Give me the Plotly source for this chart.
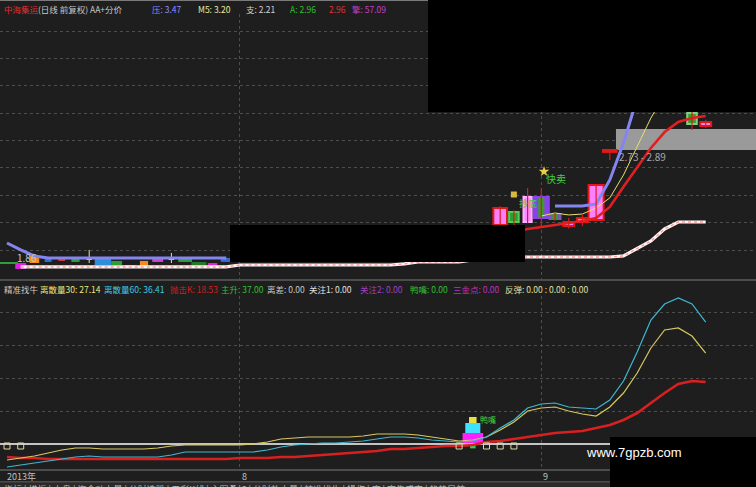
import plotly.graph_objects as go

W, H = 756, 487
BG = "#1e1e1e"
FONT = "Noto Sans CJK SC"

# ---------------- data ----------------
days = list(range(52))

# left cluster of small candles (days 0-16)
left_days = list(range(17))
left_lo = [1.860, 1.822, 1.867, 1.875, 1.883, 1.875, 1.890, 1.852, 1.852, 1.829, 1.844, 1.875, 1.890, 1.875, 1.829, 1.844, 1.875]
left_hi = [1.875, 1.867, 1.921, 1.906, 1.898, 1.898, 1.906, 1.906, 1.883, 1.852, 1.883, 1.906, 1.906, 1.898, 1.875, 1.867, 1.906]
left_col = ["#2e9e3a", "#e020e0", "#f08c1e", "#2d6fd8", "#d83030", "#2e9e3a", "#e8e0a0", "#2d8fd8", "#2e9e3a",
            "#e020e0", "#f08c1e", "#d040d0", "#e8e0a0", "#2e9e3a", "#1f7a2a", "#e020e0", "#2d6fd8"]
left_w = [1.6, 0.8, 0.7, 0.5, 0.5, 0.6, 0.4, 1.2, 0.8, 0.8, 0.6, 0.8, 0.4, 1.0, 1.1, 0.7, 0.8]
doji_days = [6, 12]
doji_low = [1.867, 1.867]
doji_high = [1.967, 1.944]

# right candles
c_days = [36, 37, 38, 39, 40, 41, 42, 43, 44, 50, 51]
c_open = [2.157, 2.257, 2.180, 2.211, 2.241, 2.150, 2.180, 2.196, 2.715, 3.012, 2.913]
c_close = [2.287, 2.180, 2.371, 2.371, 2.203, 2.180, 2.211, 2.463, 2.730, 2.928, 2.944]
c_high = [2.300, 2.270, 2.440, 2.440, 2.250, 2.210, 2.240, 2.470, 2.730, 3.030, 2.960]
c_low = [2.150, 2.150, 2.170, 2.142, 2.190, 2.130, 2.150, 2.190, 2.654, 2.883, 2.900]
c_fill = ["#ff80ff", "#2e9e2e", "#ff88ff", "#8a3ff0", "#7a5ab0", "#ff80ff", "#ff80ff", "#ff80ff", "#ff80ff", "#3c9a2c", "#ff80ff"]
c_edge = ["#e01818", "#55cc55", "#ffb0ff", "#8a3ff0", "#7a5ab0", "#e01818", "#e01818", "#e01818", "#e01818", "#7fd07f", "#e01818"]
c_width = [1.0, 0.7, 0.6, 1.1, 0.8, 0.8, 0.8, 1.1, 1.0, 0.7, 0.8]
inner_days = [39, 40]
inner_lo = [2.211, 2.203]
inner_hi = [2.371, 2.241]

N = None
# top panel lines (price)
res_line = [2.02, 1.967, 1.921] + [1.906] * 14 + [N] * 23 + [2.302, 2.302, 2.302, 2.318, 2.501, 2.783, 3.127, 3.42] + [N] * 4
m5_line = [N] * 39 + [2.226, 2.249, 2.234, 2.241, 2.287, 2.364, 2.539, 2.753, 2.974, 3.15, 3.25, N, N]
ma_line = [N] * 35 + [2.060, 2.081, 2.104, 2.127, 2.142, 2.157, 2.173, 2.188, 2.211, 2.295, 2.450, 2.593,
                      2.745, 2.867, 2.944, 2.974, 2.990]
sup_line = [N] + [1.837] * 16 + [1.852] * 12 + [1.860, 1.875, 1.875, 1.875, 1.875, 1.890, 1.906] + [1.913] * 9 + \
           [1.921, 1.975, 2.035, 2.127, 2.180, 2.180, 2.180]

band_low, band_high, band_start = 2.73, 2.89, 44.45

# bottom panel indicator lines
lsl30 = [-4.78, -4.18, -3.58, -2.69, -1.79, -1.19, -1.19, -1.49, -1.49, -1.49, -1.49, -1.19, -0.60,
         -0.30, -0.30, -0.30, -0.30, -0.30, 0.00, 0.60, 1.49, 1.79, 2.09, 2.09, 2.09, 2.09, 2.39,
         2.99, 2.99, 2.99, 2.69, 2.09, 1.49, 0.90, 1.19, 2.09, 4.18, 6.57, 9.85, 10.75, 11.04, 9.85,
         8.96, 8.36, 11.04, 15.22, 21.19, 28.66, 34.03, 34.63, 32.24, 27.14]
lsl60 = [-6.87, -6.27, -5.67, -5.07, -4.48, -3.88, -3.58, -3.88, -3.88, -3.88, -3.88, -3.88, -3.28,
         -2.39, -2.39, -2.39, -2.39, -2.39, -2.39, -1.79, -0.90, -0.30, 0.00, 0.30, 0.30, 0.60, 0.90,
         1.49, 2.09, 2.09, 1.79, 1.19, 0.90, 0.60, 0.90, 2.09, 4.78, 7.16, 10.75, 11.94, 12.24, 11.04,
         10.75, 10.45, 13.13, 18.81, 27.46, 37.01, 41.79, 43.58, 41.79, 36.41]
pjk = [-3.88, -4.18, -4.18] + [-4.48] * 14 + [-4.18] * 3 + [-3.88, -3.88, -3.58, -3.28, -2.99, -2.69, -2.39,
       -2.09, -1.49, -1.49, -1.19, -0.90, -0.60, -0.60, -0.30, 0.60, 0.90, 1.49, 2.09, 2.69, 3.28, 3.58,
       3.88, 4.78, 5.67, 7.16, 9.25, 12.24, 15.22, 17.91, 18.81, 18.53]
mark_days = [0, 1, 33, 35, 36, 37]
mark_val = [-0.6] * 6
blk_day = 34
blk_lo = [0.3, 3.28, 6.27, -1.3]
blk_hi = [3.28, 6.27, 8.06, 0.0]
blk_col = ["#ff20ff", "#40e0ff", "#e8e040", "#30d050"]
blk_w = [1.5, 1.1, 0.55, 0.4]

top_grid = [1.959, 2.173, 2.379, 2.593, 2.799, 3.005, 3.219, 3.432, 3.638]
bot_grid = [9.85, 19.7, 29.55, 39.4]
month_days = [17, 39]
month_labels = ["8", "9"]
tab_labels = ["指标", "模板", "大盘", "资金动力量", "分时选股", "五彩K线", "主图叠加", "分时放大量",
              "精准找牛", "操作", "底", "密集成交", "趋势导航"]

# ---------------- figure ----------------
fig = go.Figure()

# gray zone
fig.add_shape(type="rect", xref="x", yref="y", x0=band_start, x1=60, y0=band_low, y1=band_high,
              fillcolor="#9a9a9a", line_width=0, layer="between")

# support line (white with pink dots)
fig.add_trace(go.Scatter(x=days, y=sup_line, mode="lines", line=dict(color="#fff4f4", width=3.2),
                         xaxis="x", yaxis="y"))
fig.add_trace(go.Scatter(x=days, y=sup_line, mode="lines", line=dict(color="#ff9a9a", width=1.4, dash="dot"),
                         xaxis="x", yaxis="y"))

# left candles
fig.add_trace(go.Bar(x=left_days, y=[h - l for h, l in zip(left_hi, left_lo)], base=left_lo, width=left_w,
                     marker=dict(color=left_col, line=dict(width=0)), xaxis="x", yaxis="y"))
wx, wy = [], []
for d, lo, hi in zip(doji_days, doji_low, doji_high):
    wx += [d, d, None]
    wy += [lo, hi, None]
fig.add_trace(go.Scatter(x=wx, y=wy, mode="lines", line=dict(color="#e8e0a0", width=1), xaxis="x", yaxis="y"))

# lines
fig.add_trace(go.Scatter(x=days, y=res_line, mode="lines", line=dict(color="#8585f0", width=3), xaxis="x", yaxis="y"))
fig.add_trace(go.Scatter(x=days, y=ma_line, mode="lines", line=dict(color="#e02020", width=2.6), xaxis="x", yaxis="y"))
fig.add_trace(go.Scatter(x=days, y=m5_line, mode="lines", line=dict(color="#e6e070", width=1), xaxis="x", yaxis="y"))

# right candles
wx, wy = [], []
for d, lo, hi in zip(c_days, c_low, c_high):
    wx += [d, d, None]
    wy += [lo, hi, None]
fig.add_trace(go.Scatter(x=wx, y=wy, mode="lines", line=dict(color="#e01818", width=1.2), xaxis="x", yaxis="y"))
fig.add_trace(go.Bar(x=c_days, y=[abs(c - o) for o, c in zip(c_open, c_close)],
                     base=[min(o, c) for o, c in zip(c_open, c_close)], width=c_width,
                     marker=dict(color=c_fill, line=dict(color=c_edge, width=2)), xaxis="x", yaxis="y"))
fig.add_trace(go.Bar(x=inner_days, y=[h - l for h, l in zip(inner_hi, inner_lo)], base=inner_lo, width=[0.45, 0.4],
                     marker=dict(color="#3c9a2c", line=dict(width=0)), xaxis="x", yaxis="y"))
# signal icons
fig.add_trace(go.Scatter(x=[37.0], y=[2.39], mode="markers", marker=dict(symbol="square", size=6, color="#d8b840"),
                         xaxis="x", yaxis="y"))
fig.add_trace(go.Scatter(x=[39.2], y=[2.565], mode="markers", marker=dict(symbol="star", size=8, color="#e8d040"),
                         xaxis="x", yaxis="y"))

# bottom panel
fig.add_trace(go.Scatter(x=days, y=pjk, mode="lines", line=dict(color="#d82020", width=2.6), xaxis="x2", yaxis="y2"))
fig.add_trace(go.Scatter(x=days, y=lsl30, mode="lines", line=dict(color="#d8c860", width=1.2), xaxis="x2", yaxis="y2"))
fig.add_trace(go.Scatter(x=days, y=lsl60, mode="lines", line=dict(color="#40b8d0", width=1.2), xaxis="x2", yaxis="y2"))
fig.add_trace(go.Bar(x=[blk_day] * 4, y=[h - l for h, l in zip(blk_hi, blk_lo)], base=blk_lo, width=blk_w,
                     marker=dict(color=blk_col, line=dict(width=0)), xaxis="x2", yaxis="y2"))
fig.add_trace(go.Scatter(x=mark_days, y=mark_val, mode="markers",
                         marker=dict(symbol="square-open", size=6, color="#e0d8a0", line=dict(width=1)),
                         xaxis="x2", yaxis="y2"))

# ---------------- layout ----------------
def py(p):
    return 1 - p / H

xr = [-7 / 13.7, (W - 7) / 13.7]
grid = dict(showgrid=True, gridcolor="#4e4e4e", griddash="dot", gridwidth=1, zeroline=False,
            showticklabels=False, ticks="", showline=False)

fig.update_layout(
    width=W, height=H, margin=dict(l=0, r=0, t=0, b=0),
    paper_bgcolor=BG, plot_bgcolor=BG, showlegend=False, barmode="overlay", hovermode=False,
    font=dict(family=FONT, size=9, color="#c8c8c8"),
    xaxis=dict(domain=[0, 1], range=xr, anchor="y", tickvals=month_days, **grid),
    xaxis2=dict(domain=[0, 1], range=xr, anchor="y2", matches="x", tickvals=month_days, **grid),
    yaxis=dict(domain=[py(279), py(14)], range=[1.745, 3.768], tickvals=top_grid, **grid),
    yaxis2=dict(domain=[py(470), py(296)], range=[-7.76, 44.18], tickvals=bot_grid,
                **{**grid, "zeroline": True}, zerolinecolor="#c4c4c4", zerolinewidth=2),
)

shapes = []
for yy in [0.5, 280, 470, 482]:
    shapes.append(dict(type="line", xref="paper", yref="paper", x0=0, x1=1, y0=py(yy), y1=py(yy),
                       line=dict(color="#7a7a7a", width=1), layer="above"))
shapes.append(dict(type="rect", xref="paper", yref="paper", x0=0, x1=1, y0=0, y1=py(482.5),
                   fillcolor="#2a2a2a", line_width=0, layer="above"))
for x0, x1, y0, y1 in [(428, 756, 0, 112), (230, 525, 225, 262), (610, 756, 437, 487)]:
    shapes.append(dict(type="rect", xref="paper", yref="paper", x0=x0 / W, x1=x1 / W, y0=py(y1), y1=py(y0),
                       fillcolor="#000000", line_width=0, layer="above"))
for s in shapes:
    fig.add_shape(**s)

ann = []
def txt(x, y, s, color, size=8.5, xref="paper", yref="paper", xanchor="left", yanchor="middle"):
    ann.append(dict(x=x, y=y, text=s, xref=xref, yref=yref, xanchor=xanchor, yanchor=yanchor, showarrow=False,
                    font=dict(color=color, size=size, family=FONT)))

# header
for x, s, c in [(2, "中海集运", "#e03030"), (36, "(日线 前复权) AA+分价", "#c8c8c8"), (150, "压: 3.47", "#8c8cff"),
                (196, "M5: 3.20", "#e8e8a0"), (244, "支: 2.21", "#d0d0d0"), (288, "A: 2.96", "#30c030"),
                (327, "2.96", "#e03030"), (350, "擎: 57.09", "#c040d0")]:
    txt(x / W, py(9), s, c)
for x, s, c in [(2, "精准找牛", "#c8c8c8"), (38, "离散量30: 27.14", "#e8e880"), (102, "离散量60: 36.41", "#40c8e8"),
                (168, "抛击K: 18.53", "#d02020"), (219, "主升: 37.00", "#30c030"), (265, "离差: 0.00", "#c8c8c8"),
                (307, "关注1: 0.00", "#e0e0e0"), (358, "关注2: 0.00", "#a040c0"), (408, "鸭嘴: 0.00", "#30c030"),
                (451, "三金点: 0.00", "#c030c0"), (503, "反弹: 0.00 : 0.00 : 0.00", "#e0e0a0")]:
    txt(x / W, py(289), s, c)

# chart labels
txt(0.6, 1.906, "1.86", "#c8c8c8", size=10, xref="x", yref="y")
txt(44.5, 2.677, "2.73 - 2.89", "#a8a8a8", size=10, xref="x", yref="y")
txt(39.2, 2.516, "快卖", "#40d040", size=10, xref="x", yref="y")
txt(37.2, 2.325, "抄底", "#40d040", size=9, xref="x", yref="y")
txt(34.4, 7.2, "鸭嘴", "#40d040", size=8, xref="x2", yref="y2")

# time axis labels
txt(5 / W, py(476), "2013年", "#c0c0c0", size=9)
for d, s in zip(month_days, month_labels):
    txt(d, py(476), s, "#c0c0c0", size=9, xref="x", yref="paper")

# tabs (cut off at bottom edge)
txt(2 / W, py(489), " | ".join(tab_labels), "#b8b8b8", size=9, yanchor="middle")

# watermark
ann.append(dict(x=684 / W, y=py(462), xref="paper", yref="paper", text="www.7gpzb.com", showarrow=False,
                font=dict(color="#ffffff", size=13, family="Liberation Sans")))

fig.update_layout(annotations=ann)
fig.write_html("out.html", config={"displayModeBar": False},
               post_script="document.body.style.margin='0';document.body.style.overflow='hidden';")
